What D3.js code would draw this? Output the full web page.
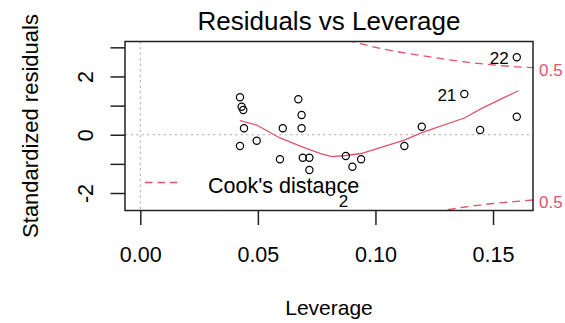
<!DOCTYPE html>
<html>
<head>
<meta charset="utf-8">
<script src="https://cdn.jsdelivr.net/npm/d3@7"></script>
<style>
  body { margin: 0; background: #fff; }
  text { font-family: "Liberation Sans", Arial, sans-serif; }
</style>
</head>
<body>
<div id="chart"></div>
<script>
// Data
var leverage = [0.0424, 0.0431, 0.0438, 0.0441, 0.0424, 0.0495, 0.0594, 0.0606,
                0.0672, 0.0686, 0.0686, 0.0691, 0.0719, 0.0719, 0.0874, 0.0902,
                0.0939, 0.0810, 0.1123, 0.1197, 0.1378, 0.1445, 0.1601, 0.1601];
var stdResid = [1.285, 0.962, 0.849, 0.221, -0.387, -0.205, -0.843, 0.221,
                1.216, 0.677, 0.221, -0.788, -0.788, -1.210, -0.730, -1.097,
                -0.843, -1.955, -0.387, 0.276, 1.398, 0.162, 2.657, 0.619];
var pointIds = ["", "", "", "", "", "", "", "", "", "", "", "", "", "", "", "",
                "", "2", "", "", "21", "", "22", ""];

// red smoother
var smoothX = [0.0424, 0.0495, 0.0594, 0.0686, 0.0764, 0.0814, 0.0874, 0.0939,
               0.1123, 0.1197, 0.1378, 0.1452, 0.1608];
var smoothY = [0.482, 0.334, -0.11, -0.411, -0.637, -0.754, -0.713, -0.644,
               -0.181, 0.070, 0.574, 0.907, 1.511];

// Cook's distance 0.5 contours
var cookUpperX = [0.088, 0.10, 0.11, 0.12, 0.13, 0.14, 0.15, 0.16, 0.167];
var cookUpperY = [3.25, 3.00, 2.84, 2.71, 2.59, 2.48, 2.40, 2.33, 2.30];
var cookLowerX = [0.1253, 0.13, 0.14, 0.15, 0.16, 0.167];
var cookLowerY = [-2.66, -2.58, -2.46, -2.36, -2.29, -2.24];
var cookLevels = ["0.5", "0.5"];

var xTicks = [0, 0.05, 0.10, 0.15];
var yTicks = [-2, -1, 0, 1, 2, 3];
var yLabelled = [-2, 0, 2];

// Chart params
var svgWidth = 565;
var svgHeight = 323;
var plot = { left: 125, right: 533, top: 41.5, bottom: 210.5 };
var red = "#DF536B";

var svg = d3.select("#chart")
    .append("svg")
    .attr("width", svgWidth)
    .attr("height", svgHeight);

svg.append("rect")
    .attr("width", svgWidth)
    .attr("height", svgHeight)
    .attr("fill", "#fff");

var x = d3.scaleLinear()
    .domain([-0.0065, 0.1670])
    .range([plot.left, plot.right]);

var y = d3.scaleLinear()
    .domain([-2.6, 3.2])
    .range([plot.bottom, plot.top]);

svg.append("clipPath")
    .attr("id", "clip")
    .append("rect")
    .attr("x", plot.left)
    .attr("y", plot.top)
    .attr("width", plot.right - plot.left)
    .attr("height", plot.bottom - plot.top);

var inner = svg.append("g").attr("clip-path", "url(#clip)");

// grey dotted reference lines
inner.append("line")
    .attr("x1", x(0)).attr("x2", x(0))
    .attr("y1", plot.top).attr("y2", plot.bottom)
    .attr("stroke", "#b4b4b4")
    .attr("stroke-width", 1.1)
    .attr("stroke-dasharray", "2.5,3");
inner.append("line")
    .attr("x1", plot.left).attr("x2", plot.right)
    .attr("y1", y(0)).attr("y2", y(0))
    .attr("stroke", "#b4b4b4")
    .attr("stroke-width", 1.1)
    .attr("stroke-dasharray", "2.5,3");

var line = d3.line()
    .x(d => x(d[0]))
    .y(d => y(d[1]));

// Cook's distance contours
[[cookUpperX, cookUpperY], [cookLowerX, cookLowerY]].forEach(function(c) {
    inner.append("path")
        .datum(d3.zip(c[0], c[1]))
        .attr("d", line.curve(d3.curveMonotoneX))
        .attr("fill", "none")
        .attr("stroke", red)
        .attr("stroke-width", 1.3)
        .attr("stroke-dasharray", "8,5");
});

// smoother
inner.append("path")
    .datum(d3.zip(smoothX, smoothY))
    .attr("d", line.curve(d3.curveLinear))
    .attr("fill", "none")
    .attr("stroke", red)
    .attr("stroke-width", 1.3);

// points
svg.selectAll("circle.pt")
    .data(d3.zip(leverage, stdResid))
    .enter()
    .append("circle")
    .attr("class", "pt")
    .attr("cx", d => x(d[0]))
    .attr("cy", d => y(d[1]))
    .attr("r", 3.6)
    .attr("fill", "none")
    .attr("stroke", "#000")
    .attr("stroke-width", 1.2);

// legend
svg.append("line")
    .attr("x1", 145).attr("x2", 182)
    .attr("y1", 182.5).attr("y2", 182.5)
    .attr("stroke", red)
    .attr("stroke-width", 1.3)
    .attr("stroke-dasharray", "7.5,5");
svg.append("text")
    .attr("x", 208)
    .attr("y", 193)
    .attr("font-size", "21.5px")
    .attr("fill", "#000")
    .text("Cook's distance");

// point id labels
var mid = (d3.min(leverage) + d3.max(leverage)) / 2;
pointIds.forEach(function(id, i) {
    if (!id) return;
    var left = leverage[i] > mid;
    svg.append("text")
        .attr("x", x(leverage[i]) + (left ? -8 : 8))
        .attr("y", y(stdResid[i]) + (left ? 7 : 15))
        .attr("text-anchor", left ? "end" : "start")
        .attr("font-size", "17px")
        .attr("fill", "#000")
        .text(id);
});

// 0.5 labels on the right
var cookEnds = [cookUpperY[cookUpperY.length - 1], cookLowerY[cookLowerY.length - 1]];
cookEnds.forEach(function(v, i) {
    svg.append("text")
        .attr("x", plot.right + 6)
        .attr("y", y(v) + 8)
        .attr("font-size", "17px")
        .attr("fill", red)
        .text(cookLevels[i]);
});

// box
svg.append("rect")
    .attr("x", plot.left)
    .attr("y", plot.top)
    .attr("width", plot.right - plot.left)
    .attr("height", plot.bottom - plot.top)
    .attr("fill", "none")
    .attr("stroke", "#222")
    .attr("stroke-width", 1.5);

// axes
var bottomAxis = d3.axisBottom(x)
    .tickValues(xTicks)
    .tickFormat(d3.format(".2f"))
    .tickSize(14.5)
    .tickSizeOuter(0);
var xAxis = svg.append("g")
    .attr("transform", `translate(0, ${plot.bottom})`)
    .call(bottomAxis);
xAxis.select(".domain").remove();
xAxis.selectAll("line").attr("stroke", "#222").attr("stroke-width", 1.5);
xAxis.selectAll("text")
    .attr("y", 51.5)
    .attr("dy", 0)
    .attr("font-size", "21.5px")
    .attr("font-family", "Liberation Sans, Arial, sans-serif")
    .attr("fill", "#000");

var leftAxis = d3.axisLeft(y)
    .tickValues(yTicks)
    .tickFormat(d => yLabelled.indexOf(d) >= 0 ? String(d) : "")
    .tickSize(14.5)
    .tickSizeOuter(0);
var yAxis = svg.append("g")
    .attr("transform", `translate(${plot.left}, 0)`)
    .call(leftAxis);
yAxis.select(".domain").remove();
yAxis.selectAll("line").attr("stroke", "#222").attr("stroke-width", 1.5);
yAxis.selectAll("text")
    .attr("x", 0)
    .attr("dy", 0)
    .attr("transform", "translate(-32, 0) rotate(-90)")
    .attr("text-anchor", "middle")
    .attr("font-size", "21.5px")
    .attr("font-family", "Liberation Sans, Arial, sans-serif")
    .attr("fill", "#000");

// title and axis labels
svg.append("text")
    .attr("x", (plot.left + plot.right) / 2)
    .attr("y", 30)
    .attr("text-anchor", "middle")
    .attr("font-size", "26px")
    .attr("fill", "#000")
    .text("Residuals vs Leverage");

svg.append("text")
    .attr("x", (plot.left + plot.right) / 2)
    .attr("y", 315)
    .attr("text-anchor", "middle")
    .attr("font-size", "21px")
    .attr("fill", "#000")
    .text("Leverage");

svg.append("text")
    .attr("transform", `translate(37.5, ${(plot.top + plot.bottom) / 2}) rotate(-90)`)
    .attr("text-anchor", "middle")
    .attr("font-size", "22px")
    .attr("fill", "#000")
    .text("Standardized residuals");
</script>
</body>
</html>
